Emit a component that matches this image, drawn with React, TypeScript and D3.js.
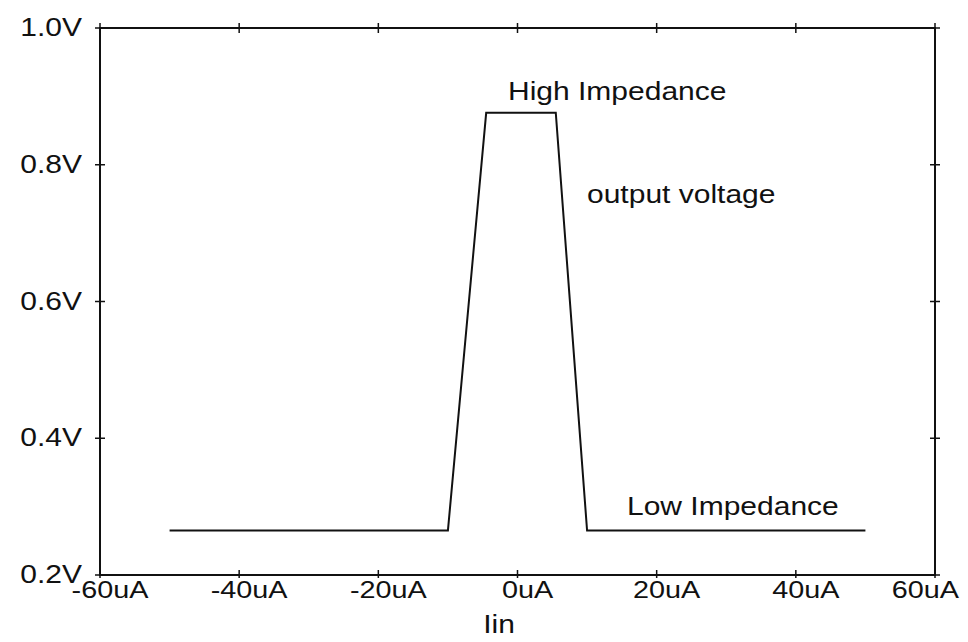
import React from "react";
import * as d3 from "d3";

const currentUA = [-50, -10, -4.5, 5.5, 10, 50];
const voltageV = [0.265, 0.265, 0.876, 0.876, 0.265, 0.265];
const xTicks = [-60, -40, -20, 0, 20, 40, 60];
const xTickLabels = ["-60uA", "-40uA", "-20uA", "0uA", "20uA", "40uA", "60uA"];
const yTicks = [0.2, 0.4, 0.6, 0.8, 1.0];
const yTickLabels = ["0.2V", "0.4V", "0.6V", "0.8V", "1.0V"];

const W = 968, H = 642;
const FONT = "'Liberation Sans', Arial, sans-serif";
const SX = 1.2;

function T({ x, y, anchor = "start", size = 24, children }: any) {
  return (
    <g transform={`translate(${x},${y}) scale(${SX},1)`}>
      <text x={0} y={0} textAnchor={anchor} fontSize={size} fontFamily={FONT} fill="#111">{children}</text>
    </g>
  );
}

export default function App() {
  const x = d3.scaleLinear().domain([-60, 60]).range([100, 935]);
  const y = d3.scaleLinear().domain([0.2, 1.0]).range([575, 28]);
  const pts: [number, number][] = currentUA.map((c, i) => [c, voltageV[i]]);
  const line = d3.line<[number, number]>().x(d => x(d[0])).y(d => y(d[1]));
  const [x0, x1] = x.range();
  const [yb, yt] = y.range();
  const tk = 5;
  return (
    <svg width={W} height={H} style={{ position: "absolute", left: 0, top: 0, background: "#fff" }}>
      <rect x={0} y={0} width={W} height={H} fill="#fff" />
      <rect x={x0} y={yt} width={x1 - x0} height={yb - yt} fill="none" stroke="#111" strokeWidth={2} />
      {xTicks.map((t, i) => (
        <g key={"xt" + i}>
          <line x1={x(t)} x2={x(t)} y1={yb - tk} y2={yb + 3} stroke="#111" strokeWidth={1.5} />
          <line x1={x(t)} x2={x(t)} y1={yt - tk} y2={yt + tk} stroke="#111" strokeWidth={1.5} />
        </g>
      ))}
      {yTicks.map((t, i) => (
        <g key={"yt" + i}>
          <line x1={x0 - tk} x2={x0 + tk} y1={y(t)} y2={y(t)} stroke="#111" strokeWidth={1.5} />
          <line x1={x1 - tk} x2={x1 + tk} y1={y(t)} y2={y(t)} stroke="#111" strokeWidth={1.5} />
        </g>
      ))}
      {xTicks.map((t, i) => (
        i === xTicks.length - 1
          ? <T key={"xl" + i} x={x(t) + 24} y={598} anchor="end">{xTickLabels[i]}</T>
          : <T key={"xl" + i} x={x(t) + 10} y={598} anchor="middle">{xTickLabels[i]}</T>
      ))}
      {yTicks.map((t, i) => (
        <T key={"yl" + i} x={82} y={y(t) + 8} anchor="end" size={25}>{yTickLabels[i]}</T>
      ))}
      <path d={line(pts) || ""} fill="none" stroke="#111" strokeWidth={2} />
      <T x={508} y={100} size={25}>High Impedance</T>
      <T x={587} y={203} size={25}>output voltage</T>
      <T x={627} y={515} size={25}>Low Impedance</T>
      <T x={499} y={633} anchor="middle" size={25}>Iin</T>
    </svg>
  );
}
